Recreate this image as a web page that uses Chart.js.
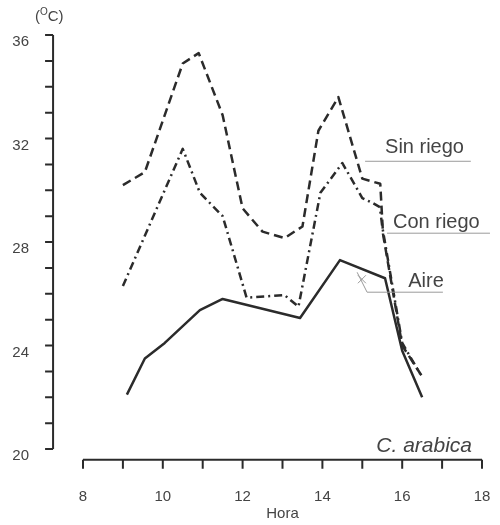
<!DOCTYPE html>
<html>
<head>
<meta charset="utf-8">
<script src="https://cdn.jsdelivr.net/npm/chart.js@4.4.1/dist/chart.umd.min.js"></script>
<style>
  html, body { margin: 0; padding: 0; background: #fff; }
</style>
</head>
<body>
<canvas id="chart" width="500" height="525"></canvas>
<script>
// horas (eje x) y temperaturas (ºC)
const horaSinRiego = [9.0, 9.55, 10.5, 10.9, 11.5, 12.0, 12.5, 13.05, 13.5, 13.9, 14.4, 15.0, 15.45, 15.52, 16.0, 16.5];
const sinRiego     = [30.2, 30.7, 34.9, 35.3, 32.9, 29.3, 28.4, 28.15, 28.6, 32.3, 33.6, 30.45, 30.25, 28.3, 24.0, 22.8];

const horaConRiego = [9.0, 10.5, 10.93, 11.5, 12.1, 13.05, 13.4, 13.95, 14.5, 15.0, 15.27, 15.44, 15.5, 16.0, 16.45];
const conRiego     = [26.3, 31.6, 29.9, 29.0, 25.85, 25.95, 25.5, 29.9, 31.05, 29.7, 29.5, 29.35, 28.6, 24.1, 22.9];

const horaAire = [9.1, 9.55, 10.05, 10.93, 11.5, 13.44, 14.44, 15.57, 16.0, 16.5];
const aire     = [22.1, 23.5, 24.1, 25.37, 25.8, 25.06, 27.3, 26.6, 23.8, 22.0];

const xTicks = [8, 10, 12, 14, 16, 18];
const yTicks = [20, 24, 28, 32, 36];

const ink = '#2b2b2b';
const txt = '#444';

function puntos(horas, temps) {
  return horas.map((h, i) => ({ x: h, y: temps[i] }));
}

Chart.defaults.font.family = '"Liberation Sans", Arial, sans-serif';
Chart.defaults.color = txt;

// ejes dibujados a mano: y separado a la izquierda, x separado abajo
const ejes = {
  id: 'ejes',
  afterDraw(chart) {
    const ctx = chart.ctx;
    const sx = chart.scales.x, sy = chart.scales.y;
    const x0 = sx.getPixelForValue(7.25);
    const y0 = sy.getPixelForValue(19.58);
    ctx.save();
    ctx.strokeStyle = ink;
    ctx.lineWidth = 2;
    ctx.beginPath();
    ctx.moveTo(x0, sy.getPixelForValue(36));
    ctx.lineTo(x0, sy.getPixelForValue(20));
    sy.ticks.forEach(t => {
      const p = sy.getPixelForValue(t.value);
      ctx.moveTo(x0, p); ctx.lineTo(x0 - 8, p);
    });
    ctx.moveTo(sx.getPixelForValue(8), y0);
    ctx.lineTo(sx.getPixelForValue(18), y0);
    sx.ticks.forEach(t => {
      const p = sx.getPixelForValue(t.value);
      ctx.moveTo(p, y0); ctx.lineTo(p, y0 + 9);
    });
    ctx.stroke();

    // unidad
    ctx.fillStyle = txt;
    ctx.textBaseline = 'alphabetic';
    ctx.font = '15px "Liberation Sans", Arial, sans-serif';
    ctx.fillText('(', 35, 21);
    let w = ctx.measureText('(').width;
    ctx.font = '10px "Liberation Sans", Arial, sans-serif';
    ctx.fillText('O', 35 + w, 15);
    w += ctx.measureText('O').width;
    ctx.font = '15px "Liberation Sans", Arial, sans-serif';
    ctx.fillText('C)', 35 + w, 21);

    // etiquetas de series con lineas guia
    const px = v => sx.getPixelForValue(v), py = v => sy.getPixelForValue(v);
    ctx.font = '20px "Liberation Sans", Arial, sans-serif';
    ctx.fillText('Sin riego', px(15.57), py(31.43));
    ctx.fillText('Con riego', px(15.77), py(28.53));
    ctx.fillText('Aire', px(16.15), py(26.25));
    ctx.font = 'italic 21px "Liberation Sans", Arial, sans-serif';
    ctx.textAlign = 'right';
    ctx.fillText('C. arabica', px(17.75), py(19.88));

    ctx.strokeStyle = '#9a9a9a';
    ctx.lineWidth = 1;
    ctx.beginPath();
    ctx.moveTo(px(15.07), py(31.12)); ctx.lineTo(px(17.72), py(31.12));
    ctx.moveTo(px(15.62), py(28.34)); ctx.lineTo(px(18.2), py(28.34));
    ctx.moveTo(px(14.87), py(26.83)); ctx.lineTo(px(15.12), py(26.06)); ctx.lineTo(px(17.02), py(26.06));
    const cx = px(14.99), cy = py(26.56);
    ctx.moveTo(cx - 4, cy - 4); ctx.lineTo(cx + 4, cy + 4);
    ctx.moveTo(cx + 4, cy - 4); ctx.lineTo(cx - 4, cy + 4);
    ctx.stroke();
    ctx.restore();
  }
};

// rejilla invisible: solo sirve para apartar las etiquetas del area
const hiddenGrid = len => ({
  display: true, drawOnChartArea: false, drawTicks: true,
  tickLength: len, color: 'rgba(0,0,0,0)'
});

new Chart(document.getElementById('chart'), {
  type: 'line',
  data: {
    datasets: [
      { label: 'Sin riego', data: puntos(horaSinRiego, sinRiego), borderColor: ink, borderWidth: 2.5, borderDash: [9, 5] },
      { label: 'Con riego', data: puntos(horaConRiego, conRiego), borderColor: ink, borderWidth: 2.5, borderDash: [8, 4, 2, 4] },
      { label: 'Aire', data: puntos(horaAire, aire), borderColor: ink, borderWidth: 2.5 }
    ]
  },
  options: {
    responsive: false,
    animation: false,
    layout: { padding: { left: 0, right: 18, top: 35, bottom: 0 } },
    elements: { point: { radius: 0 }, line: { tension: 0, borderJoinStyle: 'round' } },
    plugins: { legend: { display: false }, tooltip: { enabled: false } },
    scales: {
      x: {
        type: 'linear', min: 8, max: 18,
        afterFit(s) { s.height = 76; },
        border: { display: false },
        grid: hiddenGrid(35),
        ticks: {
          stepSize: 1, autoSkip: false, maxRotation: 0, padding: 4,
          font: { size: 15 },
          callback: v => xTicks.includes(v) ? String(v) : ''
        },
        title: { display: true, text: 'Hora', font: { size: 15 }, padding: { top: 0, bottom: 2 } }
      },
      y: {
        type: 'linear', min: 20, max: 36,
        afterFit(s) { s.width = 83; },
        border: { display: false },
        grid: hiddenGrid(50),
        ticks: {
          stepSize: 1, autoSkip: false, padding: 4, labelOffset: 7,
          font: { size: 15 },
          callback: v => yTicks.includes(v) ? String(v) : ''
        }
      }
    }
  },
  plugins: [ejes]
});
</script>
</body>
</html>
